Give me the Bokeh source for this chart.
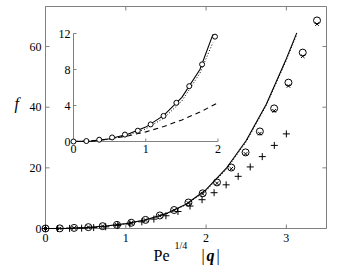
from bokeh.plotting import figure
from bokeh.models import Range1d, Label
from bokeh.core.properties import value
from bokeh.embed import file_html
from bokeh.resources import INLINE

FONT = "Liberation Serif"
AX = "#808080"

# ---- main panel data ----
circ_x = [0, 0.178, 0.356, 0.534, 0.712, 0.89, 1.068, 1.246, 1.424, 1.602,
          1.78, 1.958, 2.136, 2.314, 2.492, 2.67, 2.848, 3.026, 3.204, 3.382]
circ_y = [0, 0.05, 0.2, 0.45, 0.77, 1.2, 1.9, 2.84, 4.3, 6.1,
          8.57, 11.6, 15.2, 20.1, 25.1, 32.0, 39.6, 48.1, 58.0, 68.6]
cross_y = [0, 0.05, 0.2, 0.45, 0.77, 1.2, 1.85, 2.8, 4.2, 6.0,
           8.4, 11.4, 14.9, 19.7, 24.6, 31.3, 38.8, 47.0, 56.8, 67.4]
plus_x = [0, 0.15, 0.3, 0.45, 0.6, 0.75, 0.9, 1.05, 1.2, 1.35, 1.5,
          1.65, 1.8, 1.95, 2.1, 2.25, 2.4, 2.55, 2.7, 2.85, 3.0]
plus_y = [0, 0.0, 0.04, 0.12, 0.3, 0.55, 0.95, 1.5, 2.2, 3.1, 4.2,
          5.6, 7.4, 9.5, 11.8, 14.4, 17.2, 20.3, 23.7, 27.4, 31.2]
curve_x = [0, 0.25, 0.5, 0.75, 1.0, 1.25, 1.5, 1.75, 2.0, 2.25, 2.5, 2.75, 3.0, 3.13]
solid_y = [0, 0.04, 0.3, 0.8, 1.6, 2.9, 4.9, 8.0, 12.8, 19.8, 29.0, 41.0, 56.0, 64.5]
dotted_y = [0, 0.03, 0.27, 0.75, 1.5, 2.75, 4.7, 7.8, 12.5, 19.4, 28.6, 40.6, 55.5, 64.0]
main_xticks = [0, 1, 2, 3]
main_yticks = [0, 20, 40, 60]

# ---- inset data ----
inset_circ_x = [0, 0.178, 0.356, 0.534, 0.712, 0.89, 1.068, 1.246, 1.424, 1.602, 1.78, 1.958]
inset_circ_y = [0, 0.05, 0.2, 0.45, 0.77, 1.2, 1.9, 2.84, 4.3, 6.15, 8.57, 11.65]
inset_curve_x = [0, 0.25, 0.5, 0.75, 1.0, 1.25, 1.5, 1.75, 1.93]
inset_solid_y = [0, 0.04, 0.3, 0.8, 1.6, 2.9, 4.9, 8.0, 11.9]
inset_dotted_y = [0, 0.03, 0.25, 0.7, 1.4, 2.6, 4.5, 7.6, 11.0]
inset_dash_x = [0, 0.25, 0.5, 0.75, 1.0, 1.25, 1.5, 1.75, 2.0]
inset_dash_y = [0, 0.07, 0.27, 0.62, 1.07, 1.67, 2.4, 3.27, 4.3]
inset_xticks = [0, 1, 2]
inset_yticks = [0, 4, 8, 12]

# ---- layout (pixels) ----
W, H = 345, 270
X_END, Y_END = 3.5, 73.2
BOX_L, BOX_B = 45, 228             # main box left / bottom on the canvas
PX = 281 / X_END                   # px per x unit
PY = 222 / Y_END                   # px per y unit
IN_L, IN_B, IPX, IPY = 73, 141, 72.25, 9.0   # inset origin and scales

p = figure(width=W, height=H, title=None,
           x_range=Range1d(-BOX_L / PX, (W - BOX_L) / PX),
           y_range=Range1d(-(H - BOX_B) / PY, BOX_B / PY),
           x_axis_location=None, y_axis_location=None,
           output_backend="svg", toolbar_location=None,
           min_border_left=0, min_border_right=0, min_border_top=0, min_border_bottom=0)
p.grid.visible = False
p.outline_line_color = None

# main box, inward ticks and tick labels
p.quad(left=[0], right=[X_END], bottom=[0], top=[Y_END], fill_color=None,
       line_color=AX, line_width=1)
tx, ty = 4 / PX, 4 / PY
nx, ny = len(main_xticks), len(main_yticks)
p.segment(x0=main_xticks, y0=[0] * nx, x1=main_xticks, y1=[ty] * nx, line_color=AX)
p.segment(x0=main_xticks, y0=[Y_END] * nx, x1=main_xticks, y1=[Y_END - ty] * nx, line_color=AX)
p.segment(x0=[0] * ny, y0=main_yticks, x1=[tx] * ny, y1=main_yticks, line_color=AX)
p.segment(x0=[X_END] * ny, y0=main_yticks, x1=[X_END - tx] * ny, y1=main_yticks, line_color=AX)
p.text(x=main_xticks, y=[0] * nx, text=[str(t) for t in main_xticks], y_offset=5,
       text_align="center", text_baseline="top", text_font=value(FONT),
       text_font_size="12px", text_color="black")
p.text(x=[0] * ny, y=main_yticks, text=[str(t) for t in main_yticks], x_offset=-4,
       text_align="right", text_baseline="middle", text_font=value(FONT),
       text_font_size="12px", text_color="black")

# main curves and markers
p.line(curve_x, solid_y, line_color="black", line_width=1.1)
p.line(curve_x, dotted_y, line_color="black", line_width=1, line_dash="1 2")
p.scatter(plus_x, plus_y, marker="cross", size=7, line_color="black", line_width=1)
p.scatter(circ_x, cross_y, marker="x", size=5, line_color="black", line_width=1)
p.scatter(circ_x, circ_y, marker="circle", size=7, line_color="black", fill_color=None, line_width=1)

# inset (drawn through its own ranges)
p.extra_x_ranges = {"ix": Range1d(-IN_L / IPX, (W - IN_L) / IPX)}
p.extra_y_ranges = {"iy": Range1d(-(H - IN_B) / IPY, IN_B / IPY)}
kw = dict(x_range_name="ix", y_range_name="iy")
p.segment(x0=[0, 0], y0=[0, 0], x1=[0, inset_xticks[-1]], y1=[inset_yticks[-1], 0],
          line_color=AX, line_width=1, **kw)
p.segment(x0=[0] * len(inset_yticks), y0=inset_yticks,
          x1=[3 / IPX] * len(inset_yticks), y1=inset_yticks, line_color=AX, **kw)
p.segment(x0=inset_xticks, y0=[0] * len(inset_xticks),
          x1=inset_xticks, y1=[3 / IPY] * len(inset_xticks), line_color=AX, **kw)
p.text(x=[0] * len(inset_yticks), y=inset_yticks, text=[str(t) for t in inset_yticks],
       x_offset=-3, text_align="right", text_baseline="middle",
       text_font=value(FONT), text_font_size="12px", text_color="black", **kw)
p.text(x=inset_xticks, y=[0] * len(inset_xticks), text=[str(t) for t in inset_xticks],
       y_offset=3, text_align="center", text_baseline="top",
       text_font=value(FONT), text_font_size="12px", text_color="black", **kw)
p.line(inset_curve_x, inset_solid_y, line_color="black", line_width=1.1, **kw)
p.line(inset_curve_x, inset_dotted_y, line_color="black", line_width=1, line_dash="1 2", **kw)
p.line(inset_dash_x, inset_dash_y, line_color="black", line_width=1.1, line_dash="5 4", **kw)
p.scatter(inset_circ_x, inset_circ_y, marker="circle", size=5, line_color="black",
          fill_color="white", line_width=1, **kw)

# axis labels (screen units, the frame fills the canvas; y counted from the bottom)
def lab(x, y, t, size="16px", style="normal"):
    p.add_layout(Label(x=x, y=y, x_units="screen", y_units="screen", text=t,
                       text_font=FONT, text_font_size=size, text_font_style=style,
                       text_color="black", text_baseline="alphabetic", text_align="left"))

lab(14, H - 103, "f", style="italic")
lab(153, H - 255, "Pe")
lab(174, H - 245, "1/4", size="10px")
lab(201, H - 255, "|")
lab(206, H - 255, "q", style="bold italic")
lab(216, H - 255, "|")

open("out.html", "w").write(file_html(p, INLINE))
